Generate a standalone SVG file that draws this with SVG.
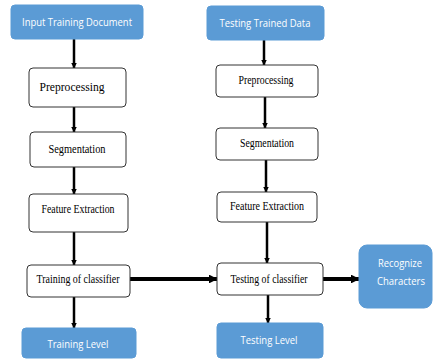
<svg xmlns="http://www.w3.org/2000/svg" width="434" height="360" viewBox="0 0 434 360">
<defs>
<marker id="ah" viewBox="0 0 6 6" refX="5.5" refY="3" markerWidth="2.2" markerHeight="2.2" orient="auto" markerUnits="strokeWidth">
<path d="M0,0 L6,3 L0,6 z" fill="#000"/>
</marker>
<style>
.blue{fill:#5B9BD5;stroke:#5B9BD5;stroke-width:1}
.white{fill:#fff;stroke:#333;stroke-width:1}
.bt{font-family:"Open Sans","Liberation Sans",sans-serif;font-size:11.5px;fill:#fff;text-anchor:middle}
.wt{font-family:"Liberation Serif","Times New Roman",serif;font-size:11.5px;fill:#000;text-anchor:middle}
.c{stroke:#000;stroke-width:2.5;fill:none;marker-end:url(#ah)}
.t{stroke:#000;stroke-width:4;fill:none;marker-end:url(#ah)}
</style>
</defs>
<rect width="434" height="360" fill="#fff"/>
<g id="connectors">
<line class="c" x1="74" y1="39" x2="74" y2="68"/>
<line class="c" x1="74" y1="107" x2="74" y2="132"/>
<line class="c" x1="74" y1="167" x2="74" y2="194"/>
<line class="c" x1="74" y1="232" x2="74" y2="265"/>
<line class="c" x1="74" y1="297" x2="74" y2="328"/>
<line class="t" x1="130" y1="279" x2="217" y2="279"/>
<line class="c" x1="264" y1="40" x2="264" y2="65"/>
<line class="c" x1="265" y1="97" x2="265" y2="128"/>
<line class="c" x1="266" y1="160" x2="266" y2="192"/>
<line class="c" x1="267" y1="222" x2="267" y2="263"/>
<line class="c" x1="268" y1="295" x2="268" y2="323"/>
<line class="t" x1="323" y1="279" x2="359" y2="279"/>
</g>
<g id="input-training">
<rect class="blue" x="11" y="5" width="132" height="34" rx="4"/>
<text class="bt" x="77" y="26" textLength="110" lengthAdjust="spacingAndGlyphs">Input Training Document</text>
</g>
<g id="pre-left">
<rect class="white" x="29" y="68" width="97" height="39" rx="4"/>
<text class="wt" x="72" y="91" textLength="65" lengthAdjust="spacingAndGlyphs">Preprocessing</text>
</g>
<g id="seg-left">
<rect class="white" x="30" y="132" width="96" height="35" rx="4"/>
<text class="wt" x="77" y="153" textLength="57" lengthAdjust="spacingAndGlyphs">Segmentation</text>
</g>
<g id="feat-left">
<rect class="white" x="29" y="194" width="99" height="38" rx="4"/>
<text class="wt" x="78" y="213" textLength="73" lengthAdjust="spacingAndGlyphs">Feature Extraction</text>
</g>
<g id="train-classifier">
<rect class="white" x="27" y="265" width="103" height="32" rx="4"/>
<text class="wt" x="78" y="283" textLength="83" lengthAdjust="spacingAndGlyphs">Training of classifier</text>
</g>
<g id="training-level">
<rect class="blue" x="22" y="328" width="114" height="30" rx="4"/>
<text class="bt" x="78" y="348" textLength="61" lengthAdjust="spacingAndGlyphs">Training Level</text>
</g>
<g id="testing-trained">
<rect class="blue" x="207" y="6" width="117" height="34" rx="4"/>
<text class="bt" x="265" y="27" textLength="91" lengthAdjust="spacingAndGlyphs">Testing Trained Data</text>
</g>
<g id="pre-right">
<rect class="white" x="216" y="65" width="102" height="32" rx="4"/>
<text class="wt" x="266" y="84" textLength="55" lengthAdjust="spacingAndGlyphs">Preprocessing</text>
</g>
<g id="seg-right">
<rect class="white" x="216" y="128" width="102" height="32" rx="4"/>
<text class="wt" x="267" y="147" textLength="54" lengthAdjust="spacingAndGlyphs">Segmentation</text>
</g>
<g id="feat-right">
<rect class="white" x="217" y="192" width="100" height="30" rx="4"/>
<text class="wt" x="267" y="210" textLength="74" lengthAdjust="spacingAndGlyphs">Feature Extraction</text>
</g>
<g id="test-classifier">
<rect class="white" x="217" y="263" width="106" height="32" rx="4"/>
<text class="wt" x="269" y="283" textLength="77" lengthAdjust="spacingAndGlyphs">Testing of classifier</text>
</g>
<g id="testing-level">
<rect class="blue" x="217" y="323" width="106" height="35" rx="4"/>
<text class="bt" x="269" y="344" textLength="57" lengthAdjust="spacingAndGlyphs">Testing Level</text>
</g>
<g id="recognize">
<rect class="blue" x="359" y="245" width="73" height="63" rx="8"/>
<text class="bt" x="400" y="267" textLength="44" lengthAdjust="spacingAndGlyphs">Recognize</text>
<text class="bt" x="401" y="285" textLength="48" lengthAdjust="spacingAndGlyphs">Characters</text>
</g>
</svg>
